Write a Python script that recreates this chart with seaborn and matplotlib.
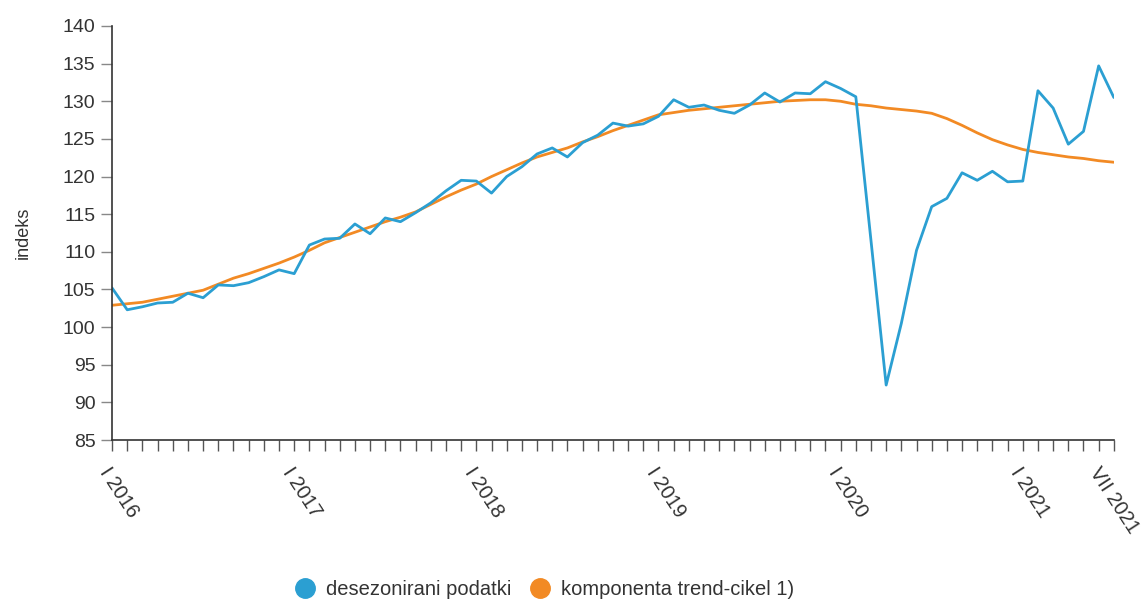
import matplotlib
matplotlib.use("Agg")
import matplotlib.pyplot as plt
import matplotlib.transforms as mtransforms
from matplotlib.lines import Line2D
import numpy as np
import pandas as pd
import seaborn as sns

# monthly index values, I 2016 .. VII 2021
months = np.arange(67)
seasonally_adjusted = [
    105.2, 102.3, 102.7, 103.2, 103.3, 104.5, 103.9, 105.6, 105.5, 105.9, 106.7, 107.6,
    107.1, 110.9, 111.7, 111.8, 113.7, 112.4, 114.5, 114.0, 115.2, 116.5, 118.1, 119.5,
    119.4, 117.8, 120.0, 121.3, 123.0, 123.8, 122.6, 124.5, 125.5, 127.1, 126.7, 127.0,
    128.0, 130.2, 129.2, 129.5, 128.8, 128.4, 129.5, 131.1, 129.9, 131.1, 131.0, 132.6,
    131.7, 130.6, 111.5, 92.3, 100.5, 110.2, 116.0, 117.1, 120.5, 119.5, 120.7, 119.3,
    119.4, 131.4, 129.1, 124.3, 126.0, 134.7, 130.5,
]
trend_cycle = [
    102.9, 103.1, 103.3, 103.7, 104.1, 104.5, 104.9, 105.7, 106.5, 107.1, 107.8, 108.5,
    109.3, 110.2, 111.2, 111.9, 112.6, 113.3, 114.0, 114.6, 115.3, 116.3, 117.3, 118.2,
    119.0, 120.0, 120.9, 121.8, 122.6, 123.2, 123.8, 124.6, 125.3, 126.1, 126.8, 127.5,
    128.2, 128.5, 128.8, 129.0, 129.2, 129.4, 129.6, 129.8, 130.0, 130.1, 130.2, 130.2,
    130.0, 129.6, 129.4, 129.1, 128.9, 128.7, 128.4, 127.7, 126.8, 125.8, 124.9, 124.2,
    123.6, 123.2, 122.9, 122.6, 122.4, 122.1, 121.9,
]
tick_positions = [0, 12, 24, 36, 48, 60, 66]
tick_labels = ["I 2016", "I 2017", "I 2018", "I 2019", "I 2020", "I 2021", "VII 2021"]
series_names = ["desezonirani podatki", "komponenta trend-cikel 1)"]
colors = ["#2b9fd2", "#f28a24"]

df = pd.DataFrame({
    "month": np.concatenate([months, months]),
    "value": seasonally_adjusted + trend_cycle,
    "series": [series_names[0]] * len(months) + [series_names[1]] * len(months),
})

sns.set_style("white")
plt.rcParams["font.family"] = ["Liberation Sans", "DejaVu Sans"]
text_color = "#333333"

fig = plt.figure(figsize=(11.41, 6.03), dpi=100)
ax = fig.add_axes([0.0982, 0.2703, 0.878, 0.6866])

sns.lineplot(
    data=df, x="month", y="value", hue="series", hue_order=series_names[::-1],
    palette=dict(zip(series_names, colors)), linewidth=2.0, ax=ax, legend=False,
)

ax.set_xlim(0, 66)
ax.set_ylim(85, 140)
ax.set_yticks(np.arange(85, 141, 5))
ax.set_xticks(months, minor=True)
ax.set_xticks(tick_positions)
ax.set_xticklabels(tick_labels, rotation=-57, ha="left", va="top",
                   rotation_mode="anchor", fontsize=14.5, color=text_color)
ax.tick_params(axis="x", which="both", direction="out", length=8, width=1,
               color="#555555", bottom=True, pad=9)
ax.tick_params(axis="y", direction="out", length=8, width=1, color="#888888",
               left=True, labelsize=14, labelcolor=text_color, pad=4)
ax.set_xlabel("")
ax.set_ylabel("indeks", fontsize=13, color=text_color, labelpad=22)

# last label sits right at the edge; nudge it left so it stays readable
last = ax.get_xticklabels()[-1]
last.set_transform(last.get_transform() + mtransforms.ScaledTranslation(-12 / 100, 0, fig.dpi_scale_trans))

for side in ["top", "right"]:
    ax.spines[side].set_visible(False)
for side in ["left", "bottom"]:
    ax.spines[side].set_color("#333333")
    ax.spines[side].set_linewidth(1.2)

handles = [Line2D([], [], marker="o", linestyle="", markersize=14,
                  markerfacecolor=c, markeredgecolor=c) for c in colors]
fig.legend(handles, series_names, loc="lower center", bbox_to_anchor=(0.473, -0.024),
           ncol=2, frameon=False, fontsize=14.5, handletextpad=0.05, columnspacing=0.4,
           labelcolor=text_color)

fig.savefig("out.png", dpi=100)
plt.close(fig)
